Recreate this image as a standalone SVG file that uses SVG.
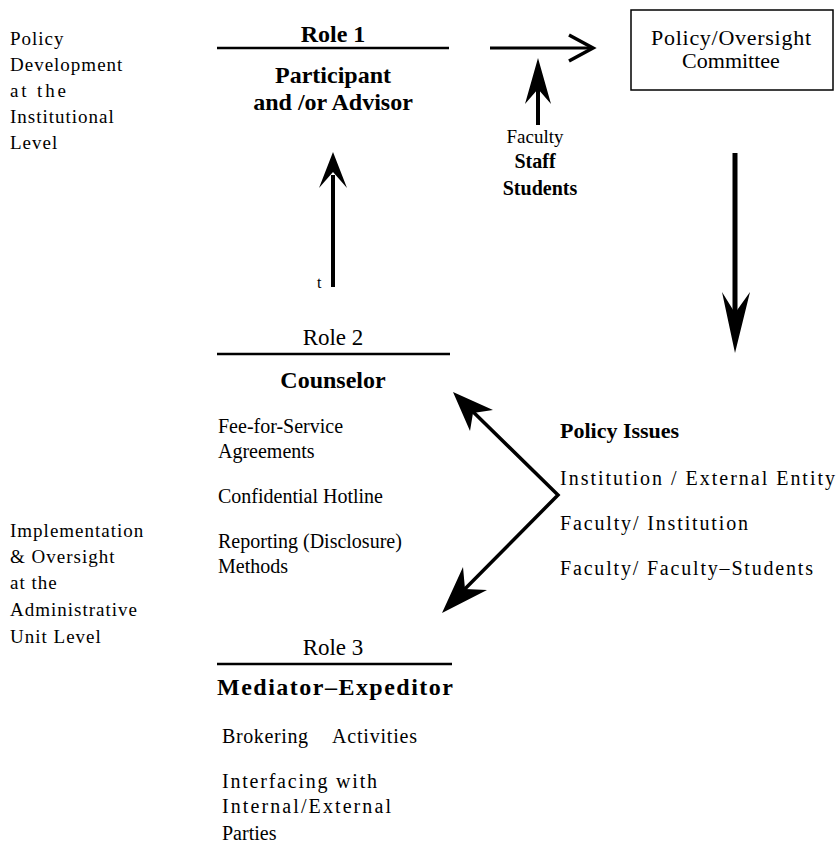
<svg xmlns="http://www.w3.org/2000/svg" width="838" height="846" viewBox="0 0 838 846">
<style>
text{font-family:"Liberation Serif","Times New Roman",serif;fill:#000}
.side{font-size:19px;letter-spacing:1px}
.hd{font-size:24px;font-weight:bold;text-anchor:middle}
.rl{font-size:23px;text-anchor:middle}
.it{font-size:20px}
.rule{stroke:#000;stroke-width:2.5}
.conn{stroke:#000;fill:none}
</style>
<rect width="838" height="846" fill="#fff"/>
<g id="label-institutional">
<text class="side" x="10" y="45">Policy</text>
<text class="side" x="10" y="71">Development</text>
<text class="side" x="10" y="97" textLength="57">at the</text>
<text class="side" x="10" y="123">Institutional</text>
<text class="side" x="10" y="149">Level</text>
</g>
<g id="role1">
<text class="hd" x="333" y="42">Role 1</text>
<line class="rule" x1="217" y1="48" x2="449" y2="48"/>
<text class="hd" x="333" y="83">Participant</text>
<text class="hd" x="333" y="110">and /or Advisor</text>
</g>
<g id="stakeholders">
<text x="535" y="143" font-size="19" text-anchor="middle">Faculty</text>
<text x="535" y="168" font-size="20" font-weight="bold" text-anchor="middle">Staff</text>
<text x="540" y="195" font-size="20" font-weight="bold" text-anchor="middle">Students</text>
</g>
<g id="committee">
<rect x="631" y="10" width="202" height="80" fill="none" stroke="#000" stroke-width="1.5"/>
<text x="731" y="45" font-size="22" text-anchor="middle" textLength="160">Policy/Oversight</text>
<text x="731" y="68" font-size="22" text-anchor="middle">Committee</text>
</g>
<g id="role2">
<text class="rl" x="333" y="345">Role 2</text>
<line class="rule" x1="217" y1="354" x2="450" y2="354"/>
<text class="hd" x="333" y="388">Counselor</text>
<text class="it" x="218" y="433">Fee-for-Service</text>
<text class="it" x="218" y="458">Agreements</text>
<text class="it" x="218" y="503">Confidential Hotline</text>
<text class="it" x="218" y="548">Reporting (Disclosure)</text>
<text class="it" x="218" y="573">Methods</text>
</g>
<g id="policy-issues">
<text x="560" y="438" font-size="22" font-weight="bold">Policy Issues</text>
<text class="it" x="560" y="485" textLength="275">Institution / External Entity</text>
<text class="it" x="560" y="530" textLength="188">Faculty/ Institution</text>
<text class="it" x="560" y="575" textLength="253">Faculty/ Faculty–Students</text>
</g>
<g id="label-administrative">
<text class="side" x="10" y="537">Implementation</text>
<text class="side" x="10" y="563">&amp; Oversight</text>
<text class="side" x="10" y="589">at the</text>
<text class="side" x="10" y="616">Administrative</text>
<text class="side" x="10" y="643">Unit Level</text>
</g>
<g id="role3">
<text class="rl" x="333" y="655">Role 3</text>
<line class="rule" x1="217" y1="664" x2="452" y2="664"/>
<text x="217" y="695" font-size="24" font-weight="bold" textLength="236">Mediator–Expeditor</text>
<text class="it" x="222" y="743" textLength="86">Brokering</text>
<text class="it" x="332" y="743" textLength="85">Activities</text>
<text class="it" x="222" y="788" textLength="156" letter-spacing="1">Interfacing with</text>
<text class="it" x="222" y="813" textLength="170" letter-spacing="1">Internal/External</text>
<text class="it" x="222" y="840">Parties</text>
</g>
<g id="connectors">
<line class="conn" x1="490" y1="48" x2="591" y2="48" stroke-width="3"/>
<path class="conn" d="M569,35 L593,48 L569,61" stroke-width="3.5"/>
<line class="conn" x1="538" y1="125" x2="538" y2="80" stroke-width="4"/>
<path d="M538,58 L551,104 L538,89 L525,104 Z" fill="#000"/>
<line class="conn" x1="333" y1="287" x2="333" y2="175" stroke-width="4"/>
<path d="M333,152 L347,188 L333,172 L319,188 Z" fill="#000"/>
<text x="317" y="288" font-size="16">t</text>
<line class="conn" x1="735" y1="153" x2="735" y2="320" stroke-width="5"/>
<path d="M735,353 L722,292 L735,313 L750,292 Z" fill="#000"/>
<path class="conn" d="M460,399 L558,495 L450,604" stroke-width="3.5"/>
<path d="M453,392 L493,410 L473,413 L470,431 Z" fill="#000"/>
<path d="M442,613 L463,567 L465,589 L487,590 Z" fill="#000"/>
</g>
</svg>
